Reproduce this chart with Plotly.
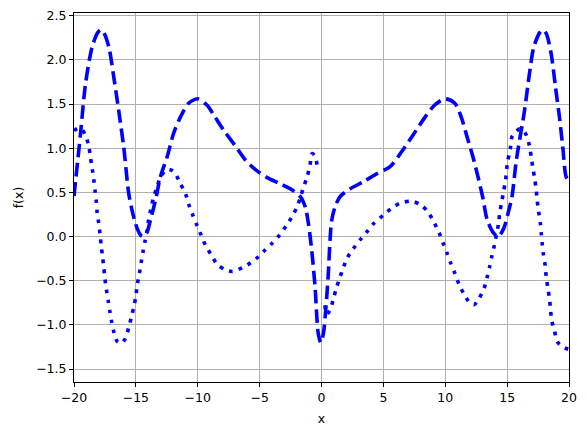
import plotly.graph_objects as go

# Dashed curve
dash_x = [-20.0, -19.47, -19.07, -18.53, -18.08, -17.85, -17.6, -17.19, -16.79, -16.39,
          -15.98, -15.58, -15.31, -15.04, -14.64, -14.4, -14.1, -13.8, -13.4, -13.02,
          -12.48, -11.95, -11.41, -10.74, -10.0, -9.26, -8.59, -7.78, -6.98, -6.17,
          -5.36, -4.42, -3.4, -2.4, -1.7, -1.3, -1.06, -0.79, -0.52, -0.26, -0.05,
          0.15, 0.36, 0.55, 0.69, 0.82, 1.09, 1.49, 2.3, 3.37, 4.45,
          5.52, 6.47, 7.4, 8.35, 9.15, 10.0, 10.77, 11.3, 11.76, 12.24,
          12.65, 13.05, 13.37, 13.85, 14.27, 14.72, 15.07, 15.39, 15.74, 16.41,
          16.81, 17.16, 17.68, 17.9, 18.16, 18.56, 18.91, 19.23, 19.5, 19.77, 20.0]
dash_y = [0.46, 1.17, 1.73, 2.15, 2.31, 2.34, 2.31, 2.15, 1.81, 1.43,
          1.01, 0.49, 0.30, 0.15, 0.02, 0.0, 0.05, 0.2, 0.42, 0.675,
          0.90, 1.17, 1.35, 1.51, 1.56, 1.49, 1.35, 1.18, 1.03, 0.87,
          0.76, 0.67, 0.60, 0.53, 0.45, 0.33, 0.15, -0.155, -0.57, -1.10, -1.2,
          -1.10, -0.80, -0.42, -0.04, 0.18, 0.335, 0.45, 0.54, 0.62, 0.71,
          0.79, 0.96, 1.15, 1.35, 1.49, 1.56, 1.51, 1.35, 1.13, 0.90,
          0.675, 0.43, 0.20, 0.05, 0.0, 0.09, 0.26, 0.45, 0.86, 1.43,
          1.85, 2.15, 2.32, 2.34, 2.30, 2.07, 1.69, 1.35, 1.01, 0.675, 0.63]

# Dotted curve; None marks the break at x = 0
dot_x = [-20.0, -19.6, -19.3, -19.07, -18.8, -18.67, -18.53, -18.4, -18.3, -18.2,
         -18.13, -18.0, -17.9, -17.8, -17.7, -17.6, -17.5, -17.38, -17.24, -17.11,
         -16.95, -16.76, -16.5, -16.2, -15.85, -15.58, -15.36, -15.17, -15.0, -14.88,
         -14.72, -14.58, -14.42, -14.26, -14.1, -13.97, -13.78, -13.56, -13.29, -13.02,
         -12.5, -12.1, -11.8, -11.41, -11.0, -10.74, -10.42, -10.07, -9.72, -9.37,
         -8.94, -8.45, -7.73, -7.2, -6.84, -6.03, -5.28, -4.69, -4.02, -3.40,
         -2.81, -2.4, -2.0, -1.73, -1.47, -1.15, -0.93, -0.75, -0.5, -0.3,
         None,
         0.28, 0.4, 0.7, 0.95, 1.19, 1.49, 1.76, 2.08, 2.56, 3.1,
         3.65, 4.23, 4.98, 5.66, 6.39, 7.27, 8.08, 8.69, 9.1, 9.5,
         9.82, 10.15, 10.44, 10.79, 11.11, 11.49, 11.98, 12.35, 12.73, 13.13,
         13.37, 13.59, 13.77, 13.97, 14.13, 14.31, 14.4, 14.56, 14.7, 14.88,
         15.02, 15.26, 15.39, 15.6, 16.0, 16.3, 16.55, 16.8, 16.95, 17.08,
         17.22, 17.35, 17.43, 17.54, 17.68, 17.76, 17.84, 17.94, 18.08, 18.16,
         18.29, 18.43, 18.51, 18.61, 18.83, 19.05, 19.5, 20.0]
dot_y = [1.2, 1.23, 1.2, 1.15, 1.02, 0.895, 0.77, 0.645, 0.52, 0.40,
         0.27, 0.15, 0.03, -0.10, -0.22, -0.34, -0.48, -0.60, -0.72, -0.84,
         -0.97, -1.09, -1.19, -1.21, -1.155, -1.03, -0.91, -0.80, -0.67, -0.54,
         -0.42, -0.30, -0.17, -0.05, 0.07, 0.19, 0.32, 0.45, 0.56, 0.675,
         0.76, 0.75, 0.71, 0.60, 0.49, 0.37, 0.25, 0.13, 0.015, -0.10,
         -0.20, -0.31, -0.38, -0.395, -0.38, -0.325, -0.25, -0.17, -0.08, 0.015,
         0.13, 0.22, 0.33, 0.43, 0.555, 0.68, 0.81, 0.94, 0.9, 0.75,
         None,
         -0.78, -0.88, -0.83, -0.71, -0.59, -0.46, -0.355, -0.24, -0.14, -0.04,
         0.05, 0.15, 0.24, 0.32, 0.38, 0.40, 0.355, 0.26, 0.16, 0.045,
         -0.07, -0.19, -0.30, -0.42, -0.54, -0.645, -0.75, -0.77, -0.70, -0.59,
         -0.47, -0.34, -0.22, -0.10, 0.015, 0.15, 0.27, 0.39, 0.5, 0.645,
         0.83, 1.0, 1.13, 1.17, 1.22, 1.2, 1.15, 1.03, 0.90, 0.78,
         0.66, 0.53, 0.41, 0.29, 0.16, 0.03, -0.09, -0.21, -0.33, -0.46,
         -0.58, -0.71, -0.83, -0.955, -1.07, -1.19, -1.25, -1.28]

x_ticks = [-20, -15, -10, -5, 0, 5, 10, 15, 20]
y_ticks = [-1.5, -1.0, -0.5, 0.0, 0.5, 1.0, 1.5, 2.0, 2.5]

fig = go.Figure()
fig.add_trace(go.Scatter(x=dash_x, y=dash_y, mode="lines",
                         line=dict(color="#0000ff", width=3.6, dash="13.5px,5.9px",
                                   shape="spline", smoothing=0.8),
                         connectgaps=False, showlegend=False))
fig.add_trace(go.Scatter(x=dot_x, y=dot_y, mode="lines",
                         line=dict(color="#0000ff", width=3.6, dash="3.7px,6.4px",
                                   shape="spline", smoothing=0.8),
                         connectgaps=False, showlegend=False))

font = dict(family="DejaVu Sans", size=12.5, color="black")
axis_common = dict(showline=True, linecolor="black", linewidth=1, mirror=True,
                   ticks="outside", ticklen=4, tickwidth=1, tickcolor="black",
                   showgrid=True, gridcolor="#b0b0b0", gridwidth=0.8,
                   zeroline=False, tickfont=font, automargin=False)
# the page body has an 8px margin, so the figure is shrunk by 8px and margins shifted
fig.update_layout(
    width=579, height=427,
    margin=dict(l=65.5, r=17.5, t=4.7, b=53.3, pad=0),
    paper_bgcolor="white", plot_bgcolor="white",
    font=font,
    xaxis=dict(range=[-20, 20], tickvals=x_ticks,
               title=dict(text="x", font=font, standoff=10), **axis_common),
    yaxis=dict(range=[-1.647, 2.532], tickvals=y_ticks, tickformat=".1f",
               title=dict(text="f(x)", font=font, standoff=9), **axis_common),
)
fig.write_html("out.html")
